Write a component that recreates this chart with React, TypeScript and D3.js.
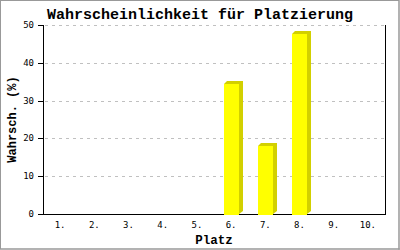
import React from "react";
import * as d3 from "d3";

const categories = ["1.", "2.", "3.", "4.", "5.", "6.", "7.", "8.", "9.", "10."];
const values = [0, 0, 0, 0, 0, 34.5, 18, 47.6, 0, 0];
const yTicks = [0, 10, 20, 30, 40, 50];
const title = "Wahrscheinlichkeit für Platzierung";
const xTitle = "Platz";
const yTitle = "Wahrsch. (%)";

export default function App() {
  const W = 400, H = 250;
  const left = 43, right = 385, top = 25, bottom = 214;
  const x = d3.scaleBand<string>().domain(categories).range([left, right]).padding(0);
  const y = d3.scaleLinear().domain([0, 50]).range([bottom, top]);
  const bw = 15;
  const sx = 4, sy = 3;
  const mono = "'Liberation Mono', 'DejaVu Sans Mono', monospace";
  const tickFont = "'DejaVu Sans Mono', monospace";

  return (
    <svg width={W} height={H} style={{ position: "absolute", left: 0, top: 0, background: "#fff" }}>
      <rect x={0} y={0} width={W} height={H} fill="#fff" />
      <rect x={0.5} y={0.5} width={W - 1.5} height={H - 1.5} fill="none" stroke="#999" strokeWidth={1} />
      <line x1={W - 1} x2={W - 1} y1={0} y2={H} stroke="#999" />
      <line x1={0} x2={W} y1={H - 1} y2={H - 1} stroke="#999" />
      {/* grid */}
      {yTicks.filter(t => t > 0).map(t => (
        <line key={t} x1={left + 2} x2={right} y1={Math.round(y(t)) + 0.5} y2={Math.round(y(t)) + 0.5}
          stroke="#c0c0c0" strokeDasharray="3,4" />
      ))}
      {/* axes */}
      <line x1={left + 0.5} x2={left + 0.5} y1={top} y2={bottom + 0.5} stroke="#000" />
      <line x1={right + 0.5} x2={right + 0.5} y1={top} y2={bottom + 0.5} stroke="#000" />
      <line x1={left} x2={right + 1} y1={bottom + 0.5} y2={bottom + 0.5} stroke="#000" />
      {yTicks.map(t => (
        <g key={t}>
          <line x1={left - 5} x2={left} y1={Math.round(y(t)) + 0.5} y2={Math.round(y(t)) + 0.5} stroke="#000" />
          <text x={left - 9} y={y(t) + 3} textAnchor="end" fontFamily={tickFont} fontSize={9} fill="#000">{t}</text>
        </g>
      ))}
      {/* bars */}
      {categories.map((c, i) => {
        const v = values[i];
        if (v <= 0) return null;
        const cx = (x(c) as number) + x.bandwidth() / 2;
        const x0 = Math.round(cx - bw / 2);
        const x1 = x0 + bw;
        const yt = Math.round(y(v));
        const pts = [
          [x0, yt], [x0 + sy, yt - sy], [x1 + sx, yt - sy], [x1 + sx, bottom - sy], [x1, bottom]
        ].map(p => p.join(",")).join(" ");
        return (
          <g key={c}>
            <polygon points={pts} fill="#d2d000" />
            <rect x={x0} y={yt} width={bw} height={bottom - yt + 1} fill="#ffff00" />
          </g>
        );
      })}
      {categories.map(c => (
        <text key={c} x={(x(c) as number) + x.bandwidth() / 2} y={bottom + 14} textAnchor="middle"
          fontFamily={tickFont} fontSize={9} fill="#000">{c}</text>
      ))}
      <text x={W / 2} y={19} textAnchor="middle" fontFamily={mono} fontWeight="bold" fontSize={15} fill="#000">{title}</text>
      <text x={(left + right) / 2} y={244} textAnchor="middle" fontFamily={mono} fontWeight="bold" fontSize={12.5} fill="#000">{xTitle}</text>
      <text transform={`translate(16,${(top + bottom) / 2}) rotate(-90)`} textAnchor="middle" fontFamily={mono}
        fontWeight="bold" fontSize={12} fill="#000">{yTitle}</text>
    </svg>
  );
}
